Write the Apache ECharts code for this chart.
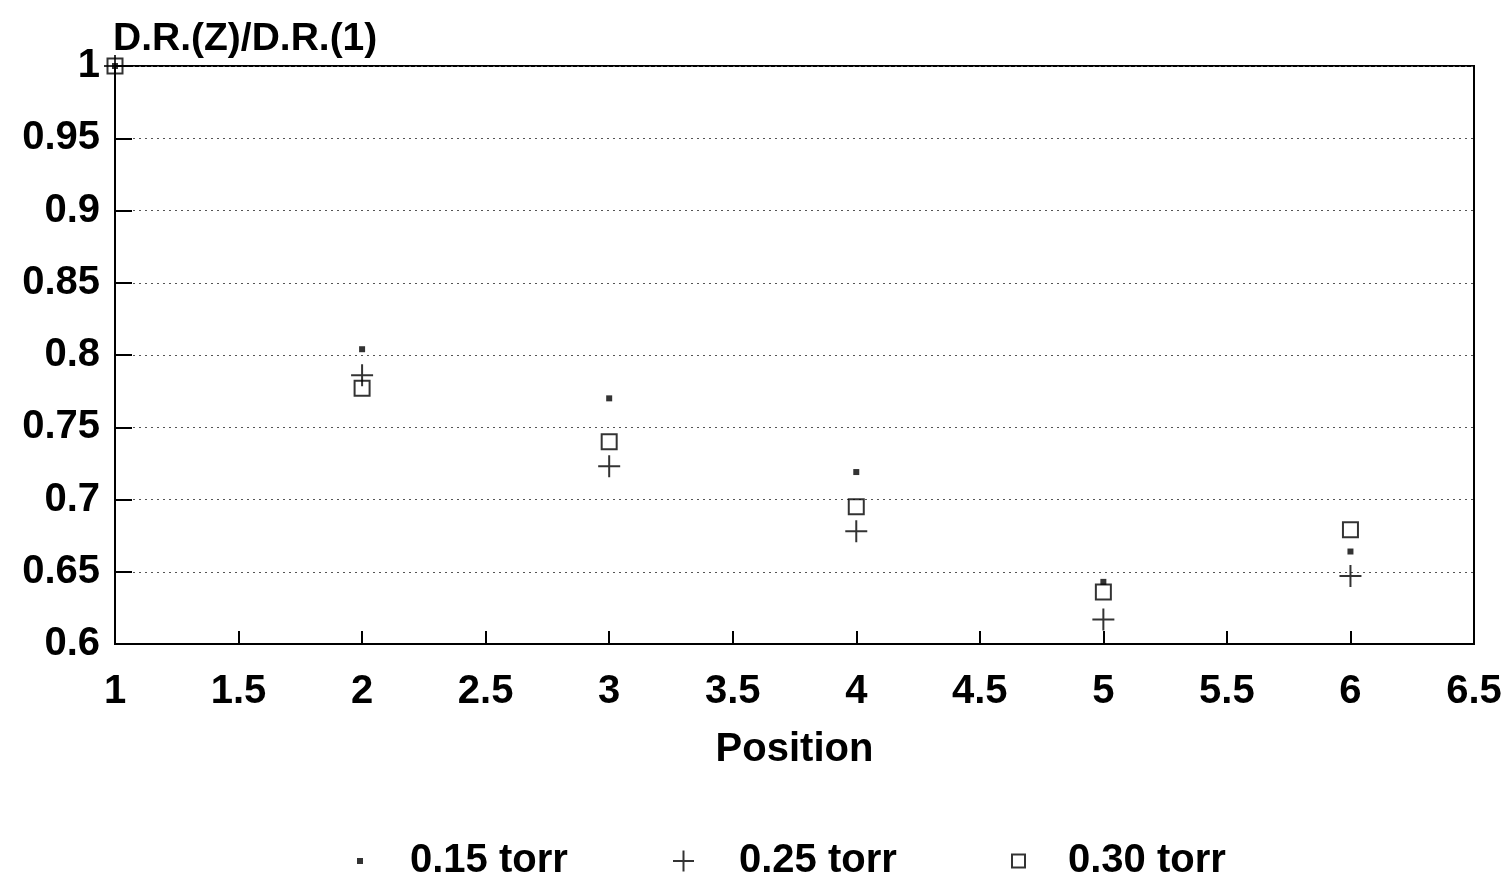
<!DOCTYPE html>
<html>
<head>
<meta charset="utf-8">
<title>D.R.(Z)/D.R.(1) vs Position</title>
<script src="https://cdn.jsdelivr.net/npm/echarts@6/dist/echarts.min.js"></script>
<style>
  html, body { margin: 0; padding: 0; background: #fff; }
  #chart { width: 1511px; height: 876px; }
</style>
</head>
<body>
<div id="chart"></div>
<script>
// Measurement positions along the chamber
const positions = [1, 2, 3, 4, 5, 6];

// Normalised D.R. ratio for each pressure
const series015 = [1.000, 0.804, 0.770, 0.719, 0.643, 0.664];
const series025 = [1.000, 0.786, 0.723, 0.678, 0.617, 0.647];
const series030 = [1.000, 0.777, 0.740, 0.695, 0.636, 0.679];

const seriesNames = ['0.15 torr', '0.25 torr', '0.30 torr'];

const FONT = '"Liberation Sans", Arial, Helvetica, sans-serif';
const FS = 40;
const PLUS = 'path://M0,9L18,9M9,0L9,18';

function pairs(values) {
  return positions.map((p, i) => [p, values[i]]);
}

const chart = echarts.init(document.getElementById('chart'), null, { renderer: 'canvas' });

const legendText = { fontFamily: FONT, fontWeight: 'bold', fontSize: FS, color: '#000' };
const LEGEND_TOP = 836;

chart.setOption({
  animation: false,
  backgroundColor: '#fff',
  title: {
    text: 'D.R.(Z)/D.R.(1)',
    left: 108,
    top: 15,
    textStyle: { fontFamily: FONT, fontWeight: 'bold', fontSize: 39, color: '#000' }
  },
  grid: {
    left: 115, right: 37, top: 66, bottom: 232,
    show: true, borderColor: '#000', borderWidth: 2, backgroundColor: 'transparent'
  },
  xAxis: {
    type: 'value',
    min: 1, max: 6.5, interval: 0.5,
    name: 'Position',
    nameLocation: 'middle',
    nameGap: 86,
    nameTextStyle: { fontFamily: FONT, fontWeight: 'bold', fontSize: FS, color: '#000' },
    axisLine: { show: true, lineStyle: { color: '#000', width: 2 } },
    axisTick: { show: true, inside: true, length: 13, lineStyle: { color: '#000', width: 2 } },
    axisLabel: { margin: 28, fontFamily: FONT, fontWeight: 'bold', fontSize: FS, color: '#000' },
    splitLine: { show: false }
  },
  yAxis: {
    type: 'value',
    min: 0.6, max: 1, interval: 0.05,
    axisLine: { show: true, lineStyle: { color: '#000', width: 2 } },
    axisTick: { show: true, inside: true, length: 17, lineStyle: { color: '#000', width: 2 } },
    axisLabel: {
      margin: 15, fontFamily: FONT, fontWeight: 'bold', fontSize: FS, color: '#000',
      formatter: v => String(Math.round(v * 100) / 100)
    },
    splitLine: { show: true, lineStyle: { color: '#555', width: 1, type: [2, 4] } }
  },
  legend: [
    {
      data: [seriesNames[0]], left: 352, top: LEGEND_TOP,
      itemWidth: 6, itemHeight: 6,
      textStyle: Object.assign({ padding: [0, 0, 0, 42] }, legendText)
    },
    {
      data: [seriesNames[1]], left: 667, top: LEGEND_TOP,
      itemWidth: 21, itemHeight: 21,
      textStyle: Object.assign({ padding: [0, 0, 0, 40] }, legendText)
    },
    {
      data: [seriesNames[2]], left: 1006, top: LEGEND_TOP,
      itemWidth: 13, itemHeight: 13,
      textStyle: Object.assign({ padding: [0, 0, 0, 38] }, legendText)
    }
  ],
  series: [
    {
      name: seriesNames[0], type: 'scatter',
      data: pairs(series015),
      symbol: 'rect', symbolSize: 6,
      itemStyle: { color: '#000' },
      z: 3
    },
    {
      name: seriesNames[1], type: 'scatter',
      data: pairs(series025),
      symbol: PLUS, symbolSize: 22,
      itemStyle: { color: 'transparent', borderColor: '#000', borderWidth: 2 },
      z: 4
    },
    {
      name: seriesNames[2], type: 'scatter',
      data: pairs(series030),
      symbol: 'rect', symbolSize: 15,
      itemStyle: { color: 'transparent', borderColor: '#000', borderWidth: 2 },
      z: 5
    }
  ]
});
</script>
</body>
</html>
